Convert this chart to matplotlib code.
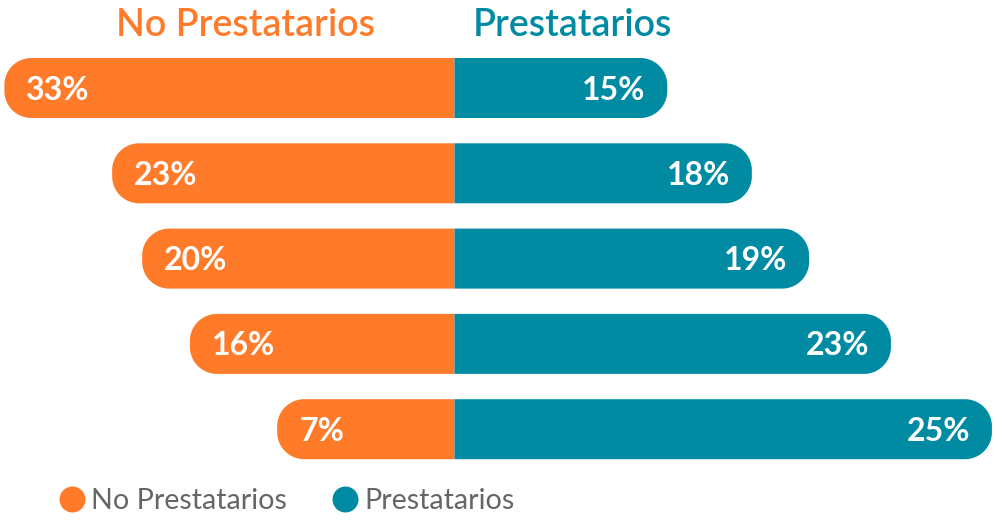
import numpy as np
import matplotlib
matplotlib.use("Agg")
import matplotlib.pyplot as plt
from matplotlib.patches import Polygon
from matplotlib.lines import Line2D

# ---- data ----
series_names = ["No Prestatarios", "Prestatarios"]
no_prest_pct = [33, 23, 20, 16, 7]
prest_pct = [15, 18, 19, 23, 25]
# bar extents as drawn in the reference (same unit as the 33% bar)
no_prest_len = [33.0, 25.1, 22.9, 19.4, 13.0]
prest_len = [15.6, 21.8, 26.0, 32.0, 39.4]

ORANGE = "#FF7A29"
TEAL = "#008BA2"
GREY = "#666666"
FONT = "Lato"

W, H = 1002, 524
fig = plt.figure(figsize=(W / 100, H / 100), dpi=100)
ax = fig.add_axes([0, 0, 1, 1])
px_per_unit = 13.64
cx = 454.5
ax.set_xlim(-cx / px_per_unit, (W - cx) / px_per_unit)
row_px = 85.3
row0 = 88.0
ax.set_ylim((H - row0) / row_px, -row0 / row_px)
ax.axis("off")

bar_h = 60 / row_px
rx = 27 / px_per_unit
ry = 27 / row_px


def rounded_bar(y, length, direction, color):
    top = y - bar_h / 2
    bot = y + bar_h / 2
    xo = direction * (length - rx)
    pts = [(0, top)]
    for a in np.linspace(np.pi / 2, 0, 30):
        pts.append((xo + direction * rx * np.cos(a), (top + ry) - ry * np.sin(a)))
    for a in np.linspace(0, -np.pi / 2, 30):
        pts.append((xo + direction * rx * np.cos(a), (bot - ry) - ry * np.sin(a)))
    pts.append((0, bot))
    ax.add_patch(Polygon(pts, closed=True, facecolor=color, edgecolor="none"))


ys = np.arange(len(no_prest_pct))
lab_off = 11.5 / row_px
for y, ln, rn, lp, rp in zip(ys, no_prest_len, prest_len, no_prest_pct, prest_pct):
    rounded_bar(y, ln, -1, ORANGE)
    rounded_bar(y, rn, 1, TEAL)
    ax.text(-ln + 22 / px_per_unit, y + lab_off, f"{lp}%", ha="left", va="baseline",
            color="white", fontsize=23, fontweight="bold", family=FONT)
    ax.text(rn - 22 / px_per_unit, y + lab_off, f"{rp}%", ha="right", va="baseline",
            color="white", fontsize=23, fontweight="bold", family=FONT)

# titles
fig.text(245 / W, 1 - 36 / H, series_names[0], ha="center", va="baseline",
         color=ORANGE, fontsize=27, fontweight="semibold", family=FONT)
fig.text(572 / W, 1 - 36 / H, series_names[1], ha="center", va="baseline",
         color=TEAL, fontsize=27, fontweight="semibold", family=FONT)

# legend
handles = [Line2D([], [], ls="", marker="o", ms=18.7, color=c, markeredgewidth=0)
           for c in (ORANGE, TEAL)]
leg = fig.legend(handles, series_names, loc="center left",
                 bbox_to_anchor=(57.7 / W, 1 - 501 / H), ncol=2, frameon=False,
                 borderpad=0, borderaxespad=0, handlelength=1.0, handletextpad=0.17,
                 columnspacing=1.54, prop={"family": FONT, "size": 20.6, "weight": "normal"})
for t in leg.get_texts():
    t.set_color(GREY)

fig.savefig("out.png", dpi=100)
